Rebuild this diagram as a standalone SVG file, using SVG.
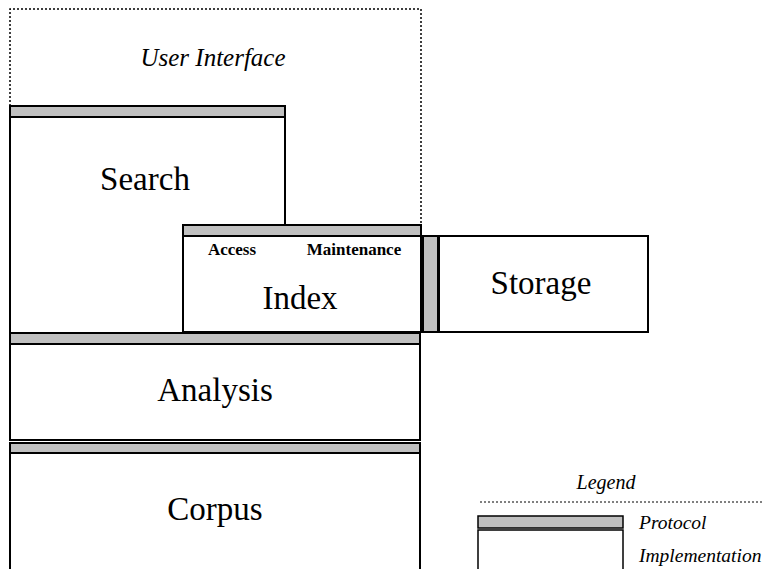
<svg xmlns="http://www.w3.org/2000/svg" width="764" height="569" viewBox="0 0 764 569">
<style>
.proto{fill:#c0c0c0;stroke:#000;stroke-width:2}
.impl{fill:#fff;stroke:#000;stroke-width:2}
.line{fill:none;stroke:#000;stroke-width:2}
.dot{fill:none;stroke:#000;stroke-width:1.5;stroke-dasharray:2 2}
.legline{fill:none;stroke:#000;stroke-width:1;stroke-dasharray:2 2}
.lproto{fill:#c0c0c0;stroke:#000;stroke-width:1.5}
.limpl{fill:#fff;stroke:#000;stroke-width:1.5}
text{font-family:'Liberation Serif','Times New Roman',Times,serif;fill:#000}
.big{font-size:33px;text-anchor:middle}
.it{font-style:italic;font-size:25px;text-anchor:middle}
.sub{font-weight:bold;font-size:17px;text-anchor:middle}
.leg{font-style:italic;font-size:19.5px}
.legt{font-style:italic;font-size:20px;text-anchor:middle}
</style>
<rect width="764" height="569" fill="#fff"/>
<g id="user-interface">
<path class="dot" d="M10,106 V9 H421 V225"/>
<text class="it" x="213" y="66">User Interface</text>
</g>
<g id="search">
<rect class="proto" x="10" y="106" width="275" height="11"/>
<path class="line" d="M10,117 H285 V225 M10,117 V333"/>
<text class="big" x="145" y="190">Search</text>
</g>
<g id="index">
<rect class="proto" x="183" y="225" width="238" height="11"/>
<rect class="impl" x="183" y="236" width="238" height="96"/>
<text class="sub" x="232" y="255">Access</text>
<text class="sub" x="354" y="255">Maintenance</text>
<text class="big" x="300" y="309">Index</text>
</g>
<g id="storage">
<rect class="proto" x="423" y="236" width="15" height="96"/>
<rect class="impl" x="439" y="236" width="209" height="96"/>
<text class="big" x="541" y="294">Storage</text>
</g>
<g id="analysis">
<rect class="proto" x="10" y="333" width="410" height="11"/>
<rect class="impl" x="10" y="344" width="410" height="96"/>
<text class="big" x="215" y="401">Analysis</text>
</g>
<g id="corpus">
<rect class="proto" x="10" y="443" width="410" height="10"/>
<rect class="impl" x="10" y="453" width="410" height="125"/>
<text class="big" x="215" y="520">Corpus</text>
</g>
<g id="legend">
<text class="legt" x="606" y="489">Legend</text>
<line class="legline" x1="480" y1="502" x2="764" y2="502"/>
<rect class="lproto" x="478" y="516" width="145" height="12"/>
<rect class="limpl" x="478" y="530" width="145" height="50"/>
<text class="leg" x="639" y="529">Protocol</text>
<text class="leg" x="639" y="562">Implementation</text>
</g>
</svg>
